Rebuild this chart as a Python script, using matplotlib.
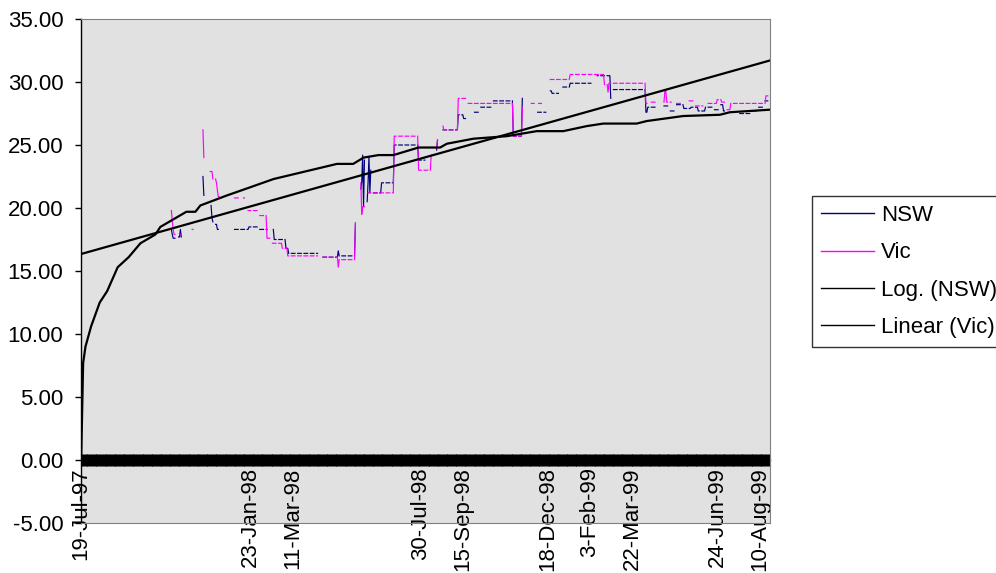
import numpy as np
import pandas as pd
import matplotlib
matplotlib.use('Agg')
import matplotlib.pyplot as plt
import matplotlib.dates as mdates
from matplotlib.ticker import FormatStrFormatter, FixedLocator

plt.rcParams['font.family'] = ['Liberation Sans', 'DejaVu Sans']
plt.rcParams['axes.unicode_minus'] = False

nan = np.nan
start = pd.Timestamp('1997-07-19')
n_days = 764

# price changes: day offset from 19-Jul-97 and the new price (nan = no quote)
nsw_days = [0,
            100, 101, 102, 105,
            108, 110, 111, 112,
            135, 136, 137,
            144, 145, 146, 149, 151, 153,
            170, 186, 197, 207,
            213, 214, 227, 230, 263,
            268, 280,
            282, 285, 286, 304, 305,
            310, 311, 312, 313, 314, 317, 318, 319, 320, 321, 324, 333, 347, 374, 382,
            394, 395, 396,
            401, 418, 424, 429,
            434, 442, 456, 479, 489, 491,
            503, 516,
            520, 522, 530,
            534, 542, 566,
            572, 587, 590, 626, 628, 640,
            644, 652, 660, 668, 676, 684, 692, 700, 708, 712, 716,
            727, 742, 750, 756, 762]
nsw_vals = [nan,
            18.3, 17.9, 17.6, nan,
            17.7, 18.3, 17.7, nan,
            22.5, 21.0, nan,
            20.2, 19.2, 18.9, 18.7, 18.3, nan,
            18.3, 18.5, 18.3, nan,
            18.3, 17.5, 16.8, 16.4, nan,
            16.1, nan,
            16.1, 16.6, 16.2, 18.8, nan,
            21.5, 22.1, 24.2, 20.1, 23.8, 20.5, 22.0, 24.1, 21.2, 23.0, 21.2, 22.0, 25.0, 23.8, nan,
            24.6, 25.4, nan,
            26.2, 27.4, 27.1, nan,
            27.6, 28.0, 28.5, 25.7, 28.7, nan,
            27.6, nan,
            29.3, 29.1, nan,
            29.6, 29.9, nan,
            30.5, 28.7, 29.4, 27.6, 28.0, nan,
            28.1, 27.7, 28.2, 27.9, 28.0, 27.7, 28.0, 27.8, 28.2, 27.7, nan,
            27.5, 27.7, 28.0, 28.5, nan]

vic_days = [0,
            100, 101, 102, 103, 105,
            110, 112,
            123, 125,
            135, 136, 137,
            143, 146, 150, 151, 152, 154,
            170, 177, 180, 183,
            185, 197, 206, 212, 223, 229, 263,
            268, 280,
            283, 285, 286, 304, 305,
            310, 311, 312, 315,
            318, 347, 374, 388, 390,
            394, 395, 396,
            401, 402, 418, 428, 479, 489, 491,
            499, 503,
            507, 514,
            520, 542, 580, 584, 585, 626, 628,
            632, 640,
            645, 647, 649, 655,
            660, 668,
            671, 680, 690,
            694, 705, 710, 716, 720, 759, 762]
vic_vals = [nan,
            19.8, 19.0, 18.3, 17.9, nan,
            17.9, nan,
            18.3, nan,
            26.2, 24.0, nan,
            22.9, 22.3, 22.0, 21.4, 20.9, nan,
            20.8, nan, 20.8, nan,
            19.8, 19.4, 17.6, 17.2, 16.8, 16.2, nan,
            16.1, nan,
            16.1, 15.3, 15.9, 18.8, nan,
            22.0, 19.5, 20.1, nan,
            21.2, 25.7, 23.0, 24.2, nan,
            24.8, 25.4, nan,
            26.5, 26.2, 28.7, 28.3, 25.7, 28.0, nan,
            28.3, nan,
            28.3, nan,
            30.2, 30.6, 29.8, 29.2, 29.9, 28.3, nan,
            28.4, nan,
            28.4, 29.3, 28.4, nan,
            28.3, nan,
            28.5, 28.1, nan,
            28.3, 28.6, 28.4, 27.8, 28.3, 28.9, nan]

# trend lines as plotted
log_days = [0, 2.2, 4.8, 11, 20.6, 28.8, 40.5, 52.7, 65.7, 82.3, 87.8, 116.6,
            126.6, 132.1, 161.7, 185.6, 213.3, 248.4, 283.5, 301.5, 313, 329.6,
            346.2, 373.9, 397.9, 405.3, 434.8, 471.8, 505, 534.4, 560.4, 578.7,
            615.7, 626.8, 667.3, 708, 719, 763]
log_vals = [0.0, 7.7, 9.0, 10.6, 12.5, 13.4, 15.3, 16.1, 17.2, 17.9, 18.5, 19.7,
            19.7, 20.2, 21.0, 21.6, 22.3, 22.9, 23.5, 23.5, 24.0, 24.2,
            24.2, 24.8, 24.8, 25.1, 25.5, 25.7, 26.1, 26.1, 26.5, 26.7,
            26.7, 26.9, 27.3, 27.4, 27.6, 27.8]
lin_days = [0, 763]
lin_vals = [16.35, 31.7]

label_dates = ['19-Jul-97', '23-Jan-98', '11-Mar-98', '30-Jul-98', '15-Sep-98',
               '18-Dec-98', '3-Feb-99', '22-Mar-99', '24-Jun-99', '10-Aug-99']

dates = pd.date_range(start, periods=n_days, freq='D')
weekend = dates.dayofweek >= 5


def daily(days, vals):
    # hold each price until the next change, no quotes at weekends
    idx = np.searchsorted(days, np.arange(n_days), side='right') - 1
    out = np.asarray(vals, dtype=float)[idx]
    out[weekend] = nan
    return out


nsw = daily(nsw_days, nsw_vals)
vic = daily(vic_days, vic_vals)
log_x = start + pd.to_timedelta(log_days, unit='D')
lin_x = start + pd.to_timedelta(lin_days, unit='D')

fig = plt.figure(figsize=(9.96, 5.73), dpi=100)
ax = fig.add_axes([80.7 / 996, 50 / 573, 689.3 / 996, 504 / 573])
ax.set_facecolor('#E1E1E1')

ax.plot(dates, nsw, color='#000080', lw=0.85, label='NSW')
ax.plot(dates, vic, color='#FF00FF', lw=0.85, label='Vic')
ax.plot(log_x, log_vals, color='black', lw=1.6, label='Log. (NSW)')
ax.plot(lin_x, lin_vals, color='black', lw=1.6, label='Linear (Vic)')

x0 = mdates.date2num(start)
ax.set_xlim(x0 - 0.5, x0 + 763.5)
ax.set_ylim(-5, 35)
ax.set_yticks(np.arange(-5, 36, 5))
ax.yaxis.set_major_formatter(FormatStrFormatter('%.2f'))
ax.tick_params(axis='y', direction='out', length=4.5, width=1, pad=8, labelsize=16)
ax.set_xticks([])

for side in ['top', 'right', 'bottom']:
    ax.spines[side].set_color('#808080')
ax.spines['left'].set_color('black')
ax.spines['left'].set_linewidth(1.0)

# category axis crossing at zero, one tick per day
xax = ax.secondary_xaxis(5 / 40)
lab_nums = mdates.date2num(pd.to_datetime(label_dates, format='%d-%b-%y'))
xax.set_xticks(lab_nums, labels=label_dates)
xax.xaxis.set_minor_locator(FixedLocator(mdates.date2num(dates)))
xax.tick_params(which='both', direction='inout', length=8.5, width=0.75, color='black')
xax.tick_params(which='major', labelsize=16, labelrotation=90, pad=1)
xax.spines['bottom'].set_color('black')
xax.spines['bottom'].set_linewidth(1.0)

leg = fig.legend(loc='upper left', bbox_to_anchor=(812 / 996, 1 - 196 / 573),
                 frameon=True, fancybox=False, edgecolor='black', fontsize=16,
                 handlelength=2.4, handletextpad=0.3, labelspacing=0.74,
                 borderpad=0.4, borderaxespad=0)
leg.get_frame().set_linewidth(1.0)
for line in leg.get_lines():
    line.set_linewidth(1.0)

fig.savefig('out.png', dpi=100, facecolor='white')
